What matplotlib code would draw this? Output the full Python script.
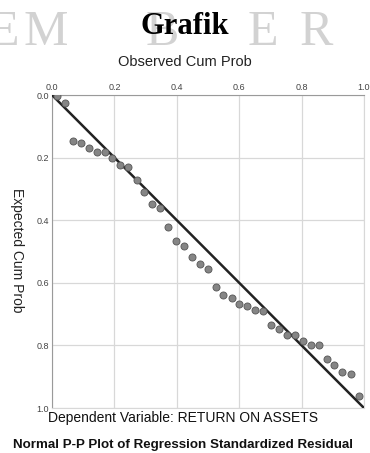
import matplotlib
matplotlib.use('Agg')
import matplotlib.pyplot as plt
import numpy as np

plt.rcParams.update({
    'font.family': 'sans-serif',
    'font.sans-serif': ['Liberation Sans', 'DejaVu Sans'],
})

# observed vs expected cumulative probabilities
observed = [0.015, 0.042, 0.066, 0.092, 0.118, 0.143, 0.169, 0.192, 0.218, 0.245,
            0.271, 0.295, 0.321, 0.346, 0.372, 0.397, 0.423, 0.448, 0.474, 0.500,
            0.525, 0.549, 0.576, 0.600, 0.626, 0.652, 0.677, 0.702, 0.728, 0.753,
            0.779, 0.803, 0.829, 0.855, 0.880, 0.905, 0.930, 0.957, 0.984]
expected = [0.003, 0.027, 0.146, 0.154, 0.170, 0.181, 0.181, 0.202, 0.224, 0.229,
            0.270, 0.310, 0.348, 0.362, 0.423, 0.466, 0.481, 0.519, 0.540, 0.556,
            0.614, 0.639, 0.650, 0.668, 0.674, 0.687, 0.690, 0.735, 0.748, 0.767,
            0.767, 0.785, 0.799, 0.799, 0.844, 0.863, 0.884, 0.891, 0.961]
ticks = [0.0, 0.2, 0.4, 0.6, 0.8, 1.0]
tick_labels = ['0.0', '0.2', '0.4', '0.6', '0.8', '1.0']

W, H = 370, 453
fig = plt.figure(figsize=(W / 100, H / 100), dpi=100)
fig.patch.set_facecolor('white')

# watermark letters behind the title
for letter, xp in zip(['E', 'M', 'B', 'E', 'R'], [4, 46, 162, 263, 316]):
    fig.text(xp / W, 1 - 33 / H, letter, ha='center', va='center',
             fontsize=36, family='Liberation Serif', color='#d2d2d2')
fig.text(185 / W, 1 - 26 / H, 'Grafik', ha='center', va='center',
         fontsize=22, fontweight='bold', family='Liberation Serif', color='black')

ax = fig.add_axes([52 / W, 1 - 408 / H, 312 / W, 313 / H])
ax.plot([0, 1], [0, 1], color='#222222', lw=1.8, zorder=3)
ax.scatter(observed, expected, s=26, color='#858585', edgecolor='#555555',
           linewidth=0.6, zorder=4)

ax.set_xlim(0, 1)
ax.set_ylim(1, 0)
ax.xaxis.tick_top()
ax.set_xticks(ticks)
ax.set_yticks(ticks)
ax.set_xticklabels(tick_labels)
ax.set_yticklabels(tick_labels)
ax.tick_params(length=0, labelsize=6.5, labelcolor='#444444', pad=2)
ax.grid(color='#d8d8d8', lw=0.9)
ax.set_axisbelow(True)
for side in ['right', 'bottom']:
    ax.spines[side].set_color('#d8d8d8')
for side in ['left', 'top']:
    ax.spines[side].set_color('#9a9a9a')

fig.text(185 / W, 1 - 62 / H, 'Observed Cum Prob', ha='center', va='center',
         fontsize=10.5, color='#222222')
fig.text(17 / W, 1 - 250 / H, 'Expected Cum Prob', ha='center', va='center',
         fontsize=10, rotation=-90, color='#222222')
fig.text(183 / W, 1 - 418 / H, 'Dependent Variable: RETURN ON ASSETS',
         ha='center', va='center', fontsize=10, color='#111111')
fig.text(183 / W, 1 - 445 / H, 'Normal P-P Plot of Regression Standardized Residual',
         ha='center', va='center', fontsize=9.6, fontweight='bold', color='#111111')

fig.savefig('out.png', dpi=100, facecolor='white')
